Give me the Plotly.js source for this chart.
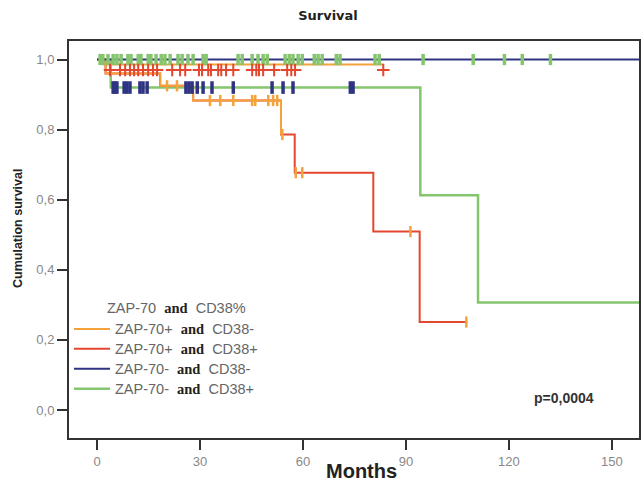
<!DOCTYPE html>
<html>
<head>
<meta charset="utf-8">
<script src="https://cdn.plot.ly/plotly-3.0.1.min.js"></script>
<style>html,body{margin:0;padding:0;background:#fff;}#chart{width:644px;height:487px;}</style>
</head>
<body>
<div id="chart"></div>
<script>
// ---- data (months, cumulative survival) ----
const legendLabels = ["ZAP-70+", "ZAP-70+", "ZAP-70-", "ZAP-70-"];
const legendCD38 = ["CD38-", "CD38+", "CD38-", "CD38+"];

// ZAP-70+ and CD38- (upper orange curve)
const orangeTimes = [0, 2, 83.4];
const orangeSurv  = [1, 0.986, 0.986];
const orangeCensor = [3.8, 6.7, 8.2, 9.6, 10.8, 12.0, 13.4, 14.9, 16.3, 17.5, 21.9, 24.2, 25.7, 29.7, 30.6, 32.4, 33.2, 35.3, 36.2, 37.6, 39.7, 45.2, 46.4, 47.2, 48.4, 51.6, 55.4, 56.6, 57.7, 83.4];
const orangeCensorLevel = 0.97;

// ZAP-70+ and CD38+ (descending curve)
const redTimes = [0, 2.5, 18.4, 28, 53.6, 57.6, 80.5, 94, 107.6];
const redSurv  = [1, 0.96, 0.925, 0.883, 0.786, 0.677, 0.509, 0.251, 0.251];
const redEarlyEnd = 53.6;
const redCensor = [20.4, 23.3, 32.9, 35.9, 39.7, 45.2, 46.1, 49.9, 51.3, 52.5, 54.0, 57.9, 59.8, 91.3, 107.6];

// ZAP-70- and CD38- (flat at 1,0)
const navyTimes = [0, 160];
const navySurv  = [1, 1];
const navyCensor = [0.9, 1.7, 3.2, 4.7, 5.8, 7.0, 9.0, 9.9, 12.0, 12.8, 14.9, 15.7, 17.2, 18.7, 19.8, 21.3, 23.6, 24.8, 26.5, 28.0, 30.9, 31.8, 41.1, 42.3, 45.2, 46.9, 48.4, 49.6, 54.8, 56.0, 57.1, 58.6, 59.8, 63.3, 64.4, 65.6, 69.7, 70.8, 81.0, 82.2, 95.0, 109.6, 118.7, 123.9, 132.1];

// ZAP-70- and CD38+ (green)
const greenTimes = [0, 4, 94.2, 111, 160];
const greenSurv  = [1, 0.92, 0.613, 0.307, 0.307];
const greenCensor = [4.7, 5.2, 5.8, 7.9, 8.7, 9.6, 12.5, 13.4, 14.6, 25.9, 26.8, 27.7, 29.2, 30.9, 33.5, 39.7, 51.0, 54.2, 57.1, 73.8, 74.6];

const xTickVals = [0, 30, 60, 90, 120, 150];
const yTickVals = [0, 0.2, 0.4, 0.6, 0.8, 1.0];
const yTickText = ["0,0", "0,2", "0,4", "0,6", "0,8", "1,0"];

// ---- helpers ----
function survAt(times, surv, t) {
  let s = surv[0];
  for (let i = 0; i < times.length; i++) { if (times[i] <= t) s = surv[i]; }
  return s;
}
const AND = '<span style="font-family:\'Liberation Serif\';font-weight:bold;color:#222">and</span>';
function lbl(i) { return '<span style="font-size:14.5px">' + legendLabels[i] + '  ' + AND + '  ' + legendCD38[i] + '</span>'; }

const C_OR = '#f4a23c', C_RED = '#e3472f', C_NAVY = '#2f3482', C_GREEN = '#84c56e';

const redEarlyT = redTimes.filter(t => t <= redEarlyEnd);
const redEarlyS = redEarlyT.map(t => survAt(redTimes, redSurv, t));

const traces = [
  {x: greenTimes, y: greenSurv, mode: 'lines', line: {shape: 'hv', color: C_GREEN, width: 2.5}, name: lbl(3), legendrank: 4},
  {x: orangeTimes, y: orangeSurv, mode: 'lines', line: {shape: 'hv', color: C_OR, width: 2}, name: lbl(0), legendrank: 1},
  {x: redTimes, y: redSurv, mode: 'lines', line: {shape: 'hv', color: C_RED, width: 2}, name: lbl(1), legendrank: 2},
  {x: redEarlyT, y: redEarlyS, mode: 'lines', line: {shape: 'hv', color: C_OR, width: 2}, showlegend: false, hoverinfo: 'skip'},
  {x: navyTimes, y: navySurv, mode: 'lines', line: {shape: 'hv', color: C_NAVY, width: 2}, name: lbl(2), legendrank: 3},
  // censor marks
  {x: greenCensor, y: greenCensor.map(t => survAt(greenTimes, greenSurv, t)), mode: 'markers', showlegend: false,
   marker: {symbol: 'line-ns', size: 9, line: {color: C_NAVY, width: 3.5}}},
  {x: navyCensor, y: navyCensor.map(t => survAt(navyTimes, navySurv, t)), mode: 'markers', showlegend: false,
   marker: {symbol: 'line-ns', size: 8, line: {color: C_GREEN, width: 3.5}}},
  {x: orangeCensor, y: orangeCensor.map(() => orangeCensorLevel), mode: 'markers', showlegend: false,
   marker: {symbol: 'cross-thin', size: 9, line: {color: C_RED, width: 2}}},
  {x: redCensor, y: redCensor.map(t => survAt(redTimes, redSurv, t)), mode: 'markers', showlegend: false,
   marker: {symbol: 'line-ns', size: 8, line: {color: C_OR, width: 2.5}}}
];

const axisCommon = {showline: true, linecolor: '#333', linewidth: 2, mirror: true, showgrid: false, zeroline: false,
  ticks: 'outside', ticklen: 10, tickwidth: 2, tickcolor: '#333',
  tickfont: {family: 'Liberation Sans, Arial', size: 13, color: '#888'}};

const layout = {
  width: 644, height: 487,
  margin: {l: 69, r: 5, t: 41, b: 49},
  paper_bgcolor: '#ffffff', plot_bgcolor: '#ffffff',
  showlegend: true,
  title: {text: '<b>Survival</b>', x: 328 / 644, xanchor: 'center', y: 1 - 15 / 487, yanchor: 'middle',
          font: {family: 'DejaVu Sans, Arial', size: 13, color: '#222'}},
  xaxis: Object.assign({}, axisCommon, {range: [-8.16, 157.9], tickvals: xTickVals}),
  yaxis: Object.assign({}, axisCommon, {range: [-0.0799, 1.0528], tickvals: yTickVals, ticktext: yTickText}),
  legend: {x: 0.0, xanchor: 'left', y: (438 - 314) / 397, yanchor: 'top', bgcolor: 'rgba(0,0,0,0)', itemwidth: 36,
    traceorder: 'normal', tracegroupgap: 0,
    font: {family: 'Liberation Sans, Arial', size: 13, color: '#666'}},
  annotations: [
    {text: 'ZAP-70  ' + AND + '  CD38%', xref: 'paper', yref: 'paper', x: (105 - 69) / 570, y: (438 - 308) / 397,
     xanchor: 'left', yanchor: 'middle', showarrow: false,
     font: {family: 'Liberation Sans, Arial', size: 14.5, color: '#666'}},
    {text: '<b>Cumulation survival</b>', xref: 'paper', yref: 'paper', x: (18 - 69) / 570, y: (438 - 229) / 397,
     xanchor: 'center', yanchor: 'middle', textangle: -90, showarrow: false,
     font: {family: 'Liberation Sans, Arial', size: 12.5, color: '#222'}},
    {text: '<b>Months</b>', xref: 'paper', yref: 'paper', x: (361 - 69) / 570, y: (438 - 471) / 397,
     xanchor: 'center', yanchor: 'middle', showarrow: false,
     font: {family: 'Liberation Sans, Arial', size: 20, color: '#222'}},
    {text: '<b>p=0,0004</b>', xref: 'paper', yref: 'paper', x: (564 - 69) / 570, y: (438 - 398) / 397,
     xanchor: 'center', yanchor: 'middle', showarrow: false,
     font: {family: 'Liberation Sans, Arial', size: 14, color: '#333'}}
  ]
};

Plotly.newPlot('chart', traces, layout, {displayModeBar: false, staticPlot: true});
</script>
</body>
</html>
